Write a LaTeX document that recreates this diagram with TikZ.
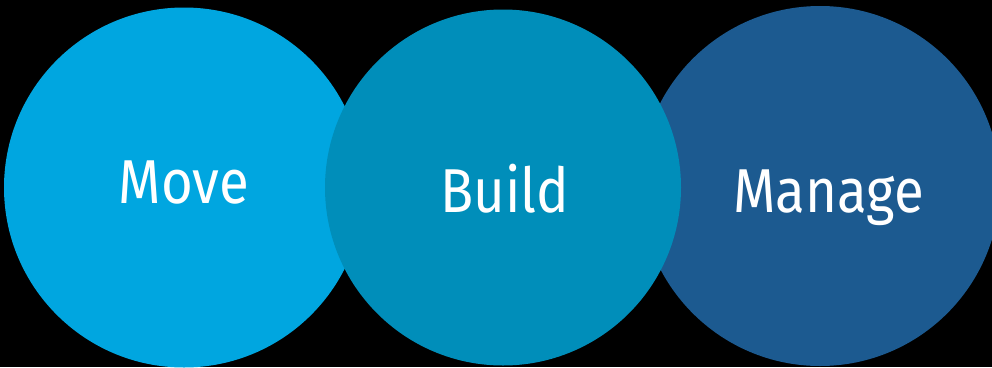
\documentclass[tikz,border=0pt]{standalone}
\usepackage{fontspec}
\setmainfont{Fira Sans}
\definecolor{movec}{HTML}{00A6E0}
\definecolor{buildc}{HTML}{008EBA}
\definecolor{managec}{HTML}{1C5A90}
\tikzset{
  lbl/.style={text=white, anchor=base, inner sep=0pt, font=\fontsize{62}{70}\selectfont}
}
\begin{document}
\begin{tikzpicture}[x=1pt,y=-1pt]
\useasboundingbox (0,0) rectangle (992,367);
\fill[black] (0,0) rectangle (992,367);
\begin{scope}
\clip (0,0) rectangle (992,367);
\fill[movec] (184,187.5) circle[radius=180pt];
\fill[managec] (820,186) circle[radius=180pt];
\fill[buildc] (503,187.5) circle[radius=178pt];
\end{scope}
\node[lbl] (move) at (184,203) {\scalebox{0.88}[1]{Move}};
\node[lbl] (build) at (505,212) {\scalebox{0.88}[1]{Build}};
\node[lbl] (manage) at (828.5,212) {\scalebox{0.88}[1]{Manage}};
\end{tikzpicture}
\end{document}
